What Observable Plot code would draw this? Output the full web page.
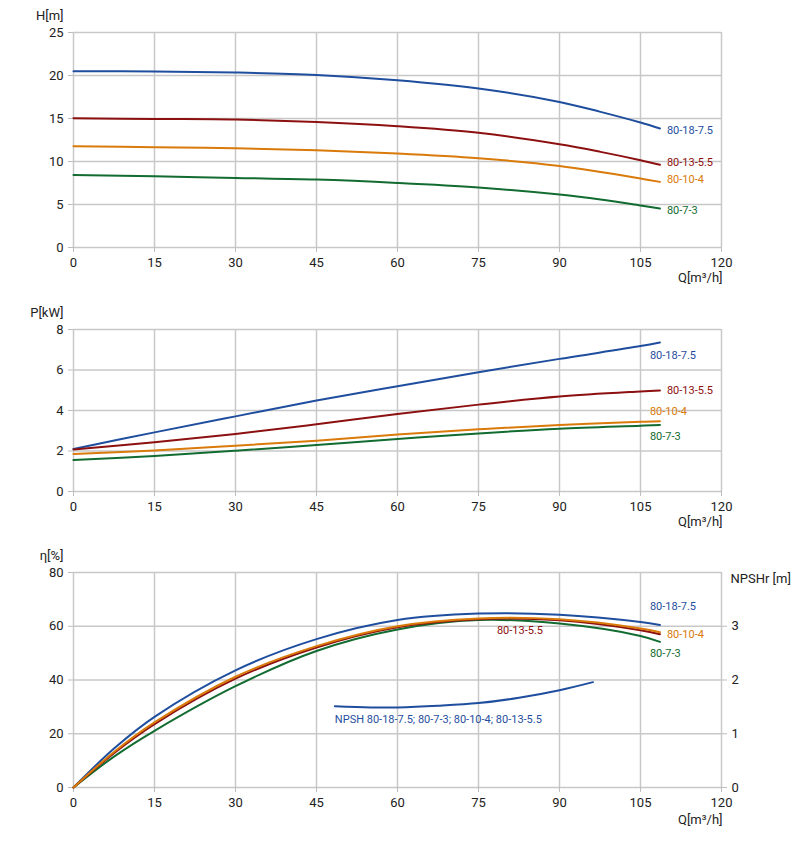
<!DOCTYPE html>
<html><head><meta charset="utf-8">
<script src="https://cdn.jsdelivr.net/npm/d3@7"></script>
<script src="https://cdn.jsdelivr.net/npm/@observablehq/plot@0.6"></script>
<style>body{margin:0;background:#fff;font-family:Roboto,sans-serif} svg{display:block}</style>
</head><body><div id="c"></div>
<script>
// ---------- data ----------
const seriesNames = ["80-18-7.5", "80-13-5.5", "80-10-4", "80-7-3"];
const seriesColors = ["#1f4e9e", "#8c1010", "#d97a0a", "#126b30"];
const drawOrder = ["80-18-7.5", "80-7-3", "80-13-5.5", "80-10-4"];
const xTicks = [0, 15, 30, 45, 60, 75, 90, 105, 120];

// Head H[m]
const qHead = [0, 15, 30, 45, 60, 75, 90, 97.6, 105, 108.6];
const head_80_18 = [20.5, 20.47, 20.35, 20.07, 19.45, 18.49, 16.93, 15.77, 14.53, 13.84];
const head_80_13 = [15.03, 14.95, 14.88, 14.6, 14.1, 13.33, 12.0, 11.12, 10.15, 9.62];
const head_80_10 = [11.78, 11.66, 11.55, 11.31, 10.93, 10.38, 9.49, 8.79, 8.02, 7.63];
const head_80_7 = [8.44, 8.29, 8.09, 7.9, 7.51, 6.98, 6.16, 5.58, 4.88, 4.53];
const headTicks = [0, 5, 10, 15, 20, 25];

// Power P[kW]
const qPower = [0, 15, 30, 45, 60, 75, 90, 105, 108.6];
const power_80_18 = [2.1, 2.92, 3.71, 4.49, 5.2, 5.89, 6.55, 7.18, 7.36];
const power_80_13 = [2.08, 2.43, 2.84, 3.32, 3.83, 4.29, 4.69, 4.94, 4.99];
const power_80_10 = [1.85, 2.03, 2.26, 2.51, 2.81, 3.07, 3.29, 3.44, 3.47];
const power_80_7 = [1.55, 1.75, 2.01, 2.3, 2.59, 2.87, 3.1, 3.25, 3.29];
const powerTicks = [0, 2, 4, 6, 8];

// Efficiency eta[%]
const qEta = [0, 7.5, 15, 30, 45, 60, 75, 90, 105, 108.6];
const eta_80_18 = [0, 14.5, 26.3, 43.6, 55.2, 62.3, 64.7, 64.3, 61.6, 60.5];
const eta_80_13 = [0, 12.8, 23.6, 40.5, 52.1, 59.6, 62.6, 62.2, 58.5, 57.0];
const eta_80_10 = [0, 13.2, 24.2, 41.2, 52.6, 60.0, 62.9, 62.6, 59.2, 57.8];
const eta_80_7 = [0, 11.5, 21.1, 37.7, 50.8, 58.8, 62.3, 61.0, 56.4, 54.2];
const etaTicks = [0, 20, 40, 60, 80];

// NPSHr [m]
const qNpsh = [48.4, 55, 60, 67.5, 75, 82.5, 90, 96.2];
const npshValues = [1.51, 1.49, 1.49, 1.52, 1.57, 1.67, 1.81, 1.96];
const npshTicks = [0, 1, 2, 3];
const npshLabel = "NPSH 80-18-7.5; 80-7-3; 80-10-4; 80-13-5.5";

// ---------- layout / style config ----------
const color = Object.fromEntries(seriesNames.map((s, i) => [s, seriesColors[i]]));
const gridStyle = {stroke: "#c8c8c8", strokeOpacity: 1, strokeWidth: 1.5};
const textColor = "#222";
const curveType = "catmull-rom";

function rowsFrom(q, arrays) {
  return seriesNames.flatMap((s, i) => arrays[i].map((v, j) => ({series: s, q: q[j], v})));
}

function makeChart(cfg) {
  const rows = rowsFrom(cfg.q, cfg.values);
  const marks = [
    Plot.gridX({ticks: xTicks, ...gridStyle}),
    Plot.gridY({ticks: cfg.yTicks, ...gridStyle}),
    Plot.axisX({ticks: xTicks, tickSize: 5, tickPadding: 5, label: null, stroke: "#bdbdbd", fill: textColor, fontSize: 13}),
    Plot.axisY({ticks: cfg.yTicks, tickSize: 5, tickPadding: 5, label: null, stroke: "#bdbdbd", fill: textColor, fontSize: 13}),
    Plot.text([cfg.yLabel], {frameAnchor: "top-left", textAnchor: "end", lineAnchor: "middle", dx: -10, dy: -17, fill: textColor, fontSize: 13}),
    Plot.text(["Q[m³/h]"], {frameAnchor: "bottom-right", textAnchor: "end", lineAnchor: "middle", dx: 1, dy: cfg.qLabelDy, fill: textColor, fontSize: 13}),
  ];
  if (cfg.extra) marks.push(...cfg.extra);
  for (const s of drawOrder) {
    marks.push(Plot.line(rows.filter(d => d.series === s), {x: "q", y: "v", stroke: color[s], strokeWidth: 2, curve: curveType}));
  }
  for (const s of seriesNames) {
    const pts = rows.filter(d => d.series === s);
    const last = pts[pts.length - 1];
    const off = cfg.labelOffsets[s];
    marks.push(Plot.text([last], {x: "q", y: "v", text: d => d.series, fill: color[s], fontSize: 11,
      textAnchor: "start", dx: off[0], dy: off[1]}));
  }
  return Plot.plot({
    width: 807, height: cfg.height,
    marginLeft: 73, marginRight: 86, marginTop: cfg.mt, marginBottom: cfg.mb,
    x: {domain: [0, 120]},
    y: {domain: cfg.yDomain},
    style: {fontFamily: "Roboto, sans-serif", fontSize: "13px", background: "white", overflow: "visible"},
    marks
  });
}

const root = document.getElementById("c");

root.appendChild(makeChart({
  q: qHead, values: [head_80_18, head_80_13, head_80_10, head_80_7],
  yDomain: [0, 25], yTicks: headTicks, yLabel: "H[m]",
  height: 290, mt: 32, mb: 43, qLabelDy: 30,
  labelOffsets: {"80-18-7.5": [7, 2], "80-13-5.5": [7, -2], "80-10-4": [7, -2], "80-7-3": [7, 2]}
}));

root.appendChild(makeChart({
  q: qPower, values: [power_80_18, power_80_13, power_80_10, power_80_7],
  yDomain: [0, 8], yTicks: powerTicks, yLabel: "P[kW]",
  height: 255, mt: 39, mb: 54, qLabelDy: 30,
  labelOffsets: {"80-18-7.5": [-10, 13], "80-13-5.5": [7, 0], "80-10-4": [-10, -10], "80-7-3": [-10, 12]}
}));

const npshRows = qNpsh.map((q, i) => ({q, m: npshValues[i]}));
const etaPerMeter = 20; // right axis 0..4 m shares the 0..80 % frame
root.appendChild(makeChart({
  q: qEta, values: [eta_80_18, eta_80_13, eta_80_10, eta_80_7],
  yDomain: [0, 80], yTicks: etaTicks, yLabel: "η[%]",
  height: 300, mt: 27, mb: 58, qLabelDy: 32,
  labelOffsets: {"80-18-7.5": [-10, -18], "80-13-5.5": [-163, -4], "80-10-4": [7, 2], "80-7-3": [-10, 12]},
  extra: [
    Plot.axisY({anchor: "right", ticks: npshTicks.map(t => t * etaPerMeter), tickFormat: d => d / etaPerMeter,
      tickSize: 5, tickPadding: 5, label: null, stroke: "#bdbdbd", fill: textColor, fontSize: 13}),
    Plot.text(["NPSHr [m]"], {frameAnchor: "top-right", textAnchor: "start", lineAnchor: "middle", dx: 9, dy: 6, fill: textColor, fontSize: 13}),
    Plot.line(npshRows, {x: "q", y: d => d.m * etaPerMeter, stroke: color["80-18-7.5"], strokeWidth: 2, curve: curveType}),
    Plot.text([npshRows[0]], {x: "q", y: d => d.m * etaPerMeter, text: () => npshLabel, fill: color["80-18-7.5"],
      fontSize: 11, textAnchor: "start", dx: 0, dy: 13})
  ]
}));
</script></body></html>
